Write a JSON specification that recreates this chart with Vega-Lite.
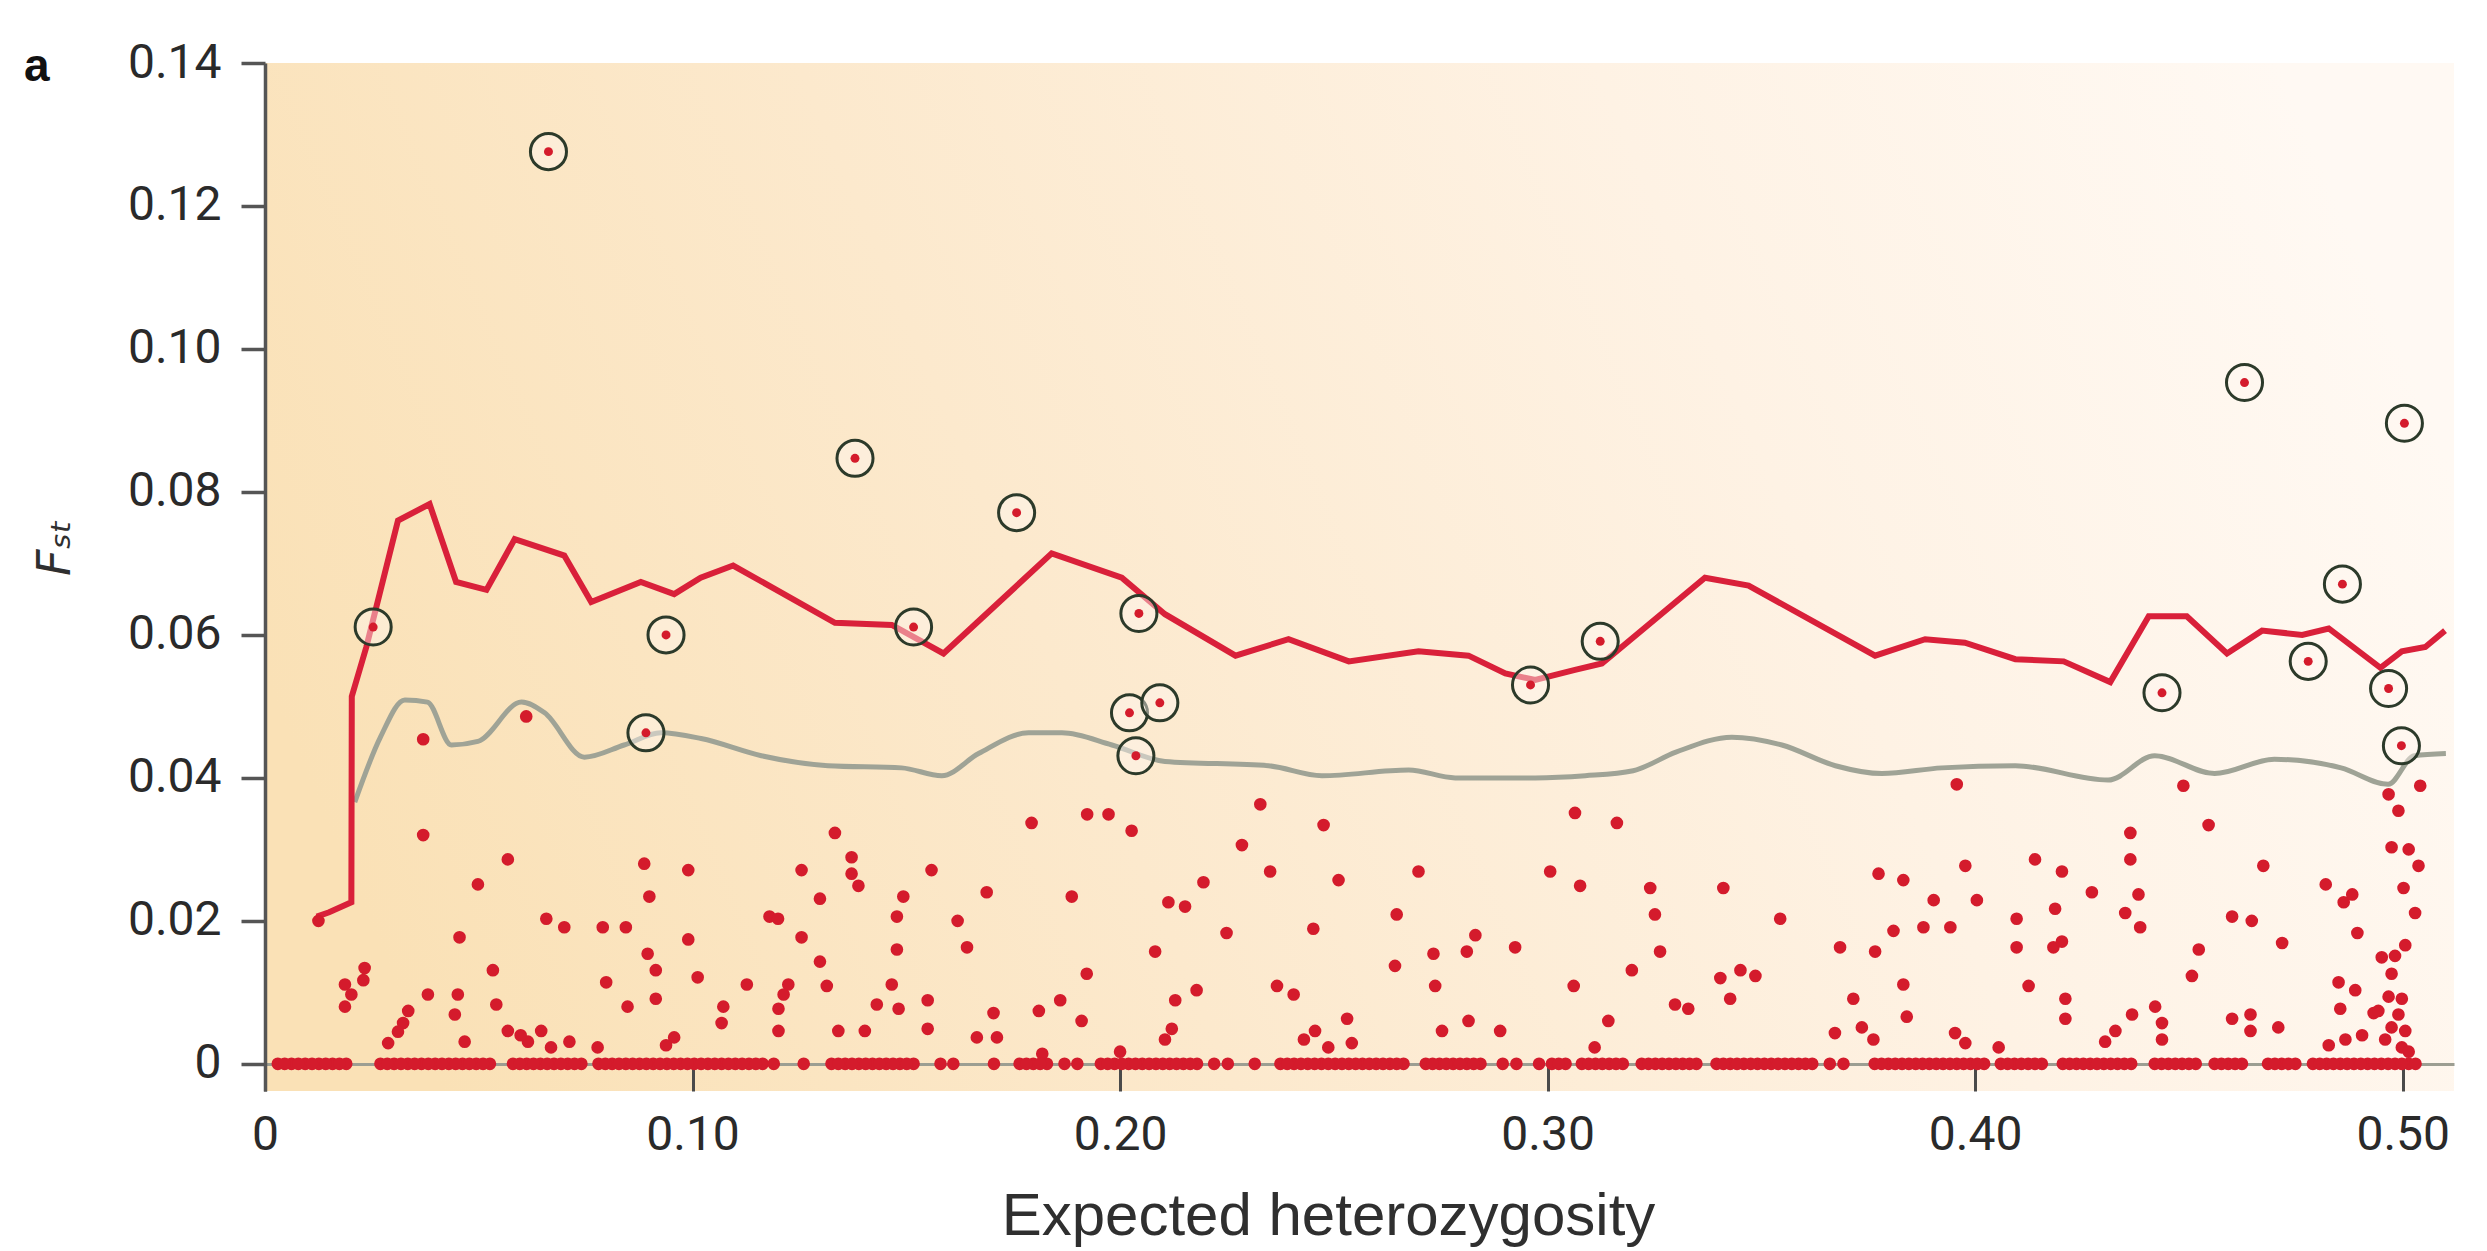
{
  "$schema": "https://vega.github.io/schema/vega-lite/v6.json",
  "width": 2189,
  "height": 1028,
  "autosize": {"type": "none"},
  "padding": {"left": 265, "top": 63, "right": 33, "bottom": 160},
  "background": "white",
  "title": {"text": "a", "anchor": "start", "frame": "group", "orient": "top", "offset": 0, "baseline": "alphabetic", "dx": -241, "dy": 88, "font": "Liberation Sans", "fontSize": 46, "fontWeight": "bold", "color": "#111111"},
  "config": {
    "view": {"stroke": null, "fill": {"gradient": "linear", "x1": 0, "y1": 0.6, "x2": 1, "y2": 0.4, "stops": [{"offset": 0, "color": "#FAE1B6"}, {"offset": 0.35, "color": "#FCE9CD"}, {"offset": 0.7, "color": "#FEF2E4"}, {"offset": 1, "color": "#FFF9F3"}]}},
    "axis": {"grid": false}
  },
  "datasets": {
    "upper": [
      {"h":0.0121,"fst":0.0206},{"h":0.0150,"fst":0.0212},{"h":0.0202,"fst":0.0226},{"h":0.0203,"fst":0.0514},{"h":0.0237,"fst":0.0583},{"h":0.0311,"fst":0.0760},{"h":0.0385,"fst":0.0783},{"h":0.0447,"fst":0.0674},{"h":0.0518,"fst":0.0663},{"h":0.0584,"fst":0.0734},{"h":0.0700,"fst":0.0711},{"h":0.0763,"fst":0.0646},{"h":0.0879,"fst":0.0674},{"h":0.0957,"fst":0.0657},{"h":0.1019,"fst":0.0680},{"h":0.1095,"fst":0.0697},{"h":0.1333,"fst":0.0617},{"h":0.1466,"fst":0.0614},{"h":0.1587,"fst":0.0574},{"h":0.1840,"fst":0.0714},{"h":0.2004,"fst":0.0680},{"h":0.2105,"fst":0.0629},{"h":0.2270,"fst":0.0571},{"h":0.2394,"fst":0.0594},{"h":0.2535,"fst":0.0563},{"h":0.2698,"fst":0.0577},{"h":0.2815,"fst":0.0571},{"h":0.2901,"fst":0.0546},{"h":0.2971,"fst":0.0537},{"h":0.3064,"fst":0.0551},{"h":0.3127,"fst":0.0560},{"h":0.3368,"fst":0.0680},{"h":0.3470,"fst":0.0669},{"h":0.3766,"fst":0.0571},{"h":0.3883,"fst":0.0594},{"h":0.3976,"fst":0.0589},{"h":0.4094,"fst":0.0566},{"h":0.4207,"fst":0.0563},{"h":0.4316,"fst":0.0534},{"h":0.4406,"fst":0.0626},{"h":0.4495,"fst":0.0626},{"h":0.4589,"fst":0.0574},{"h":0.4671,"fst":0.0606},{"h":0.4765,"fst":0.0600},{"h":0.4827,"fst":0.0609},{"h":0.4948,"fst":0.0554},{"h":0.4998,"fst":0.0577},{"h":0.5053,"fst":0.0583},{"h":0.5099,"fst":0.0606}
    ],
    "mean": [
      {"h":0.0210,"fst":0.0366},{"h":0.0270,"fst":0.0457},{"h":0.0327,"fst":0.0509},{"h":0.0380,"fst":0.0506},{"h":0.0436,"fst":0.0446},{"h":0.0498,"fst":0.0451},{"h":0.0600,"fst":0.0506},{"h":0.0654,"fst":0.0491},{"h":0.0747,"fst":0.0429},{"h":0.0840,"fst":0.0446},{"h":0.0926,"fst":0.0463},{"h":0.1020,"fst":0.0455},{"h":0.1161,"fst":0.0431},{"h":0.1317,"fst":0.0417},{"h":0.1489,"fst":0.0414},{"h":0.1583,"fst":0.0403},{"h":0.1669,"fst":0.0434},{"h":0.1786,"fst":0.0463},{"h":0.1864,"fst":0.0463},{"h":0.1981,"fst":0.0446},{"h":0.2105,"fst":0.0423},{"h":0.2347,"fst":0.0417},{"h":0.2472,"fst":0.0403},{"h":0.2675,"fst":0.0411},{"h":0.2784,"fst":0.0400},{"h":0.2971,"fst":0.0400},{"h":0.3088,"fst":0.0403},{"h":0.3200,"fst":0.0410},{"h":0.3300,"fst":0.0436},{"h":0.3431,"fst":0.0457},{"h":0.3548,"fst":0.0446},{"h":0.3673,"fst":0.0417},{"h":0.3782,"fst":0.0406},{"h":0.3922,"fst":0.0414},{"h":0.4094,"fst":0.0417},{"h":0.4311,"fst":0.0397},{"h":0.4420,"fst":0.0431},{"h":0.4560,"fst":0.0406},{"h":0.4700,"fst":0.0426},{"h":0.4856,"fst":0.0414},{"h":0.4966,"fst":0.0391},{"h":0.5027,"fst":0.0431},{"h":0.5101,"fst":0.0434}
    ],
    "outliers": [
      {"h":0.0253,"fst":0.0611},{"h":0.0663,"fst":0.1276},{"h":0.0938,"fst":0.0600},{"h":0.0891,"fst":0.0463},{"h":0.1380,"fst":0.0847},{"h":0.1517,"fst":0.0611},{"h":0.1758,"fst":0.0771},{"h":0.2044,"fst":0.0630},{"h":0.2022,"fst":0.0491},{"h":0.2093,"fst":0.0505},{"h":0.2037,"fst":0.0431},{"h":0.2960,"fst":0.0530},{"h":0.3123,"fst":0.0591},{"h":0.4437,"fst":0.0519},{"h":0.4630,"fst":0.0953},{"h":0.4779,"fst":0.0563},{"h":0.4859,"fst":0.0671},{"h":0.4967,"fst":0.0525},{"h":0.4997,"fst":0.0445},{"h":0.5004,"fst":0.0896}
    ],
    "dots": [
      {"h":0.0370,"fst":0.0454},{"h":0.0611,"fst":0.0486},{"h":0.0370,"fst":0.0320},{"h":0.0568,"fst":0.0286},{"h":0.0498,"fst":0.0251},{"h":0.0887,"fst":0.0280},{"h":0.0990,"fst":0.0271},{"h":0.0899,"fst":0.0234},{"h":0.0658,"fst":0.0203},{"h":0.0700,"fst":0.0191},{"h":0.0790,"fst":0.0191},{"h":0.0844,"fst":0.0191},{"h":0.0455,"fst":0.0177},{"h":0.0990,"fst":0.0174},{"h":0.0533,"fst":0.0131},{"h":0.0233,"fst":0.0134},{"h":0.0895,"fst":0.0154},{"h":0.0914,"fst":0.0131},{"h":0.1012,"fst":0.0121},{"h":0.0187,"fst":0.0111},{"h":0.0202,"fst":0.0097},{"h":0.0230,"fst":0.0117},{"h":0.0187,"fst":0.0080},{"h":0.0798,"fst":0.0114},{"h":0.0381,"fst":0.0097},{"h":0.0451,"fst":0.0097},{"h":0.0444,"fst":0.0069},{"h":0.0541,"fst":0.0083},{"h":0.0848,"fst":0.0080},{"h":0.0914,"fst":0.0091},{"h":0.0335,"fst":0.0074},{"h":0.0323,"fst":0.0057},{"h":0.0311,"fst":0.0045},{"h":0.0568,"fst":0.0046},{"h":0.0467,"fst":0.0031},{"h":0.0646,"fst":0.0046},{"h":0.0615,"fst":0.0031},{"h":0.0669,"fst":0.0023},{"h":0.0712,"fst":0.0031},{"h":0.0778,"fst":0.0023},{"h":0.0957,"fst":0.0037},{"h":0.0288,"fst":0.0029},{"h":0.0938,"fst":0.0026},{"h":0.0598,"fst":0.0040},{"h":0.0125,"fst":0.0200},
      {"h":0.1333,"fst":0.0323},{"h":0.1372,"fst":0.0289},{"h":0.1372,"fst":0.0266},{"h":0.1388,"fst":0.0249},{"h":0.1255,"fst":0.0271},{"h":0.1298,"fst":0.0231},{"h":0.1180,"fst":0.0206},{"h":0.1200,"fst":0.0203},{"h":0.1255,"fst":0.0177},{"h":0.1298,"fst":0.0143},{"h":0.1314,"fst":0.0109},{"h":0.1224,"fst":0.0111},{"h":0.1213,"fst":0.0097},{"h":0.1201,"fst":0.0077},{"h":0.1201,"fst":0.0046},{"h":0.1127,"fst":0.0111},{"h":0.1072,"fst":0.0080},{"h":0.1068,"fst":0.0057},{"h":0.1493,"fst":0.0234},{"h":0.1478,"fst":0.0206},{"h":0.1478,"fst":0.0160},{"h":0.1466,"fst":0.0111},{"h":0.1431,"fst":0.0083},{"h":0.1482,"fst":0.0077},{"h":0.1341,"fst":0.0046},{"h":0.1403,"fst":0.0046},{"h":0.1559,"fst":0.0271},{"h":0.1620,"fst":0.0200},{"h":0.1642,"fst":0.0163},{"h":0.1550,"fst":0.0089},{"h":0.1550,"fst":0.0049},{"h":0.1688,"fst":0.0240},{"h":0.1704,"fst":0.0071},{"h":0.1665,"fst":0.0037},{"h":0.1712,"fst":0.0037},{"h":0.1793,"fst":0.0337},{"h":0.1923,"fst":0.0349},{"h":0.1973,"fst":0.0349},{"h":0.2027,"fst":0.0326},{"h":0.1887,"fst":0.0234},{"h":0.1922,"fst":0.0126},{"h":0.1860,"fst":0.0089},{"h":0.1810,"fst":0.0074},{"h":0.1910,"fst":0.0060},{"h":0.1818,"fst":0.0014},{"h":0.2000,"fst":0.0017},
      {"h":0.2328,"fst":0.0363},{"h":0.2476,"fst":0.0334},{"h":0.2285,"fst":0.0306},{"h":0.2351,"fst":0.0269},{"h":0.2195,"fst":0.0254},{"h":0.2511,"fst":0.0257},{"h":0.2698,"fst":0.0269},{"h":0.2113,"fst":0.0226},{"h":0.2152,"fst":0.0220},{"h":0.2249,"fst":0.0183},{"h":0.2452,"fst":0.0189},{"h":0.2647,"fst":0.0209},{"h":0.2082,"fst":0.0157},{"h":0.2831,"fst":0.0180},{"h":0.2811,"fst":0.0157},{"h":0.2924,"fst":0.0163},{"h":0.2733,"fst":0.0154},{"h":0.2643,"fst":0.0137},{"h":0.2179,"fst":0.0103},{"h":0.2129,"fst":0.0089},{"h":0.2367,"fst":0.0109},{"h":0.2406,"fst":0.0097},{"h":0.2737,"fst":0.0109},{"h":0.3061,"fst":0.0109},{"h":0.3006,"fst":0.0269},{"h":0.3064,"fst":0.0351},{"h":0.3076,"fst":0.0249},{"h":0.2121,"fst":0.0049},{"h":0.2105,"fst":0.0034},{"h":0.2531,"fst":0.0063},{"h":0.2456,"fst":0.0046},{"h":0.2430,"fst":0.0034},{"h":0.2487,"fst":0.0023},{"h":0.2542,"fst":0.0029},{"h":0.2753,"fst":0.0046},{"h":0.2815,"fst":0.0060},{"h":0.2889,"fst":0.0046},
      {"h":0.3957,"fst":0.0391},{"h":0.3162,"fst":0.0337},{"h":0.3240,"fst":0.0246},{"h":0.3411,"fst":0.0246},{"h":0.3251,"fst":0.0209},{"h":0.3544,"fst":0.0203},{"h":0.3263,"fst":0.0157},{"h":0.3197,"fst":0.0131},{"h":0.3404,"fst":0.0120},{"h":0.3451,"fst":0.0131},{"h":0.3486,"fst":0.0123},{"h":0.3427,"fst":0.0091},{"h":0.3298,"fst":0.0083},{"h":0.3329,"fst":0.0077},{"h":0.3142,"fst":0.0060},{"h":0.3110,"fst":0.0023},{"h":0.3684,"fst":0.0163},{"h":0.3766,"fst":0.0157},{"h":0.3774,"fst":0.0266},{"h":0.3832,"fst":0.0257},{"h":0.3809,"fst":0.0186},{"h":0.3903,"fst":0.0229},{"h":0.3879,"fst":0.0191},{"h":0.3942,"fst":0.0191},{"h":0.3977,"fst":0.0277},{"h":0.4004,"fst":0.0229},{"h":0.4097,"fst":0.0203},{"h":0.4097,"fst":0.0163},{"h":0.3832,"fst":0.0111},{"h":0.3715,"fst":0.0091},{"h":0.3840,"fst":0.0066},{"h":0.3672,"fst":0.0043},{"h":0.3735,"fst":0.0051},{"h":0.3762,"fst":0.0034},{"h":0.3953,"fst":0.0043},{"h":0.3977,"fst":0.0029},{"h":0.4055,"fst":0.0023},
      {"h":0.4487,"fst":0.0389},{"h":0.4546,"fst":0.0334},{"h":0.4363,"fst":0.0323},{"h":0.4363,"fst":0.0286},{"h":0.4140,"fst":0.0286},{"h":0.4203,"fst":0.0269},{"h":0.4273,"fst":0.0240},{"h":0.4382,"fst":0.0237},{"h":0.4187,"fst":0.0217},{"h":0.4351,"fst":0.0211},{"h":0.4386,"fst":0.0191},{"h":0.4183,"fst":0.0163},{"h":0.4203,"fst":0.0171},{"h":0.4125,"fst":0.0109},{"h":0.4211,"fst":0.0091},{"h":0.4211,"fst":0.0063},{"h":0.4674,"fst":0.0277},{"h":0.4601,"fst":0.0206},{"h":0.4647,"fst":0.0200},{"h":0.4820,"fst":0.0251},{"h":0.4862,"fst":0.0226},{"h":0.4882,"fst":0.0237},{"h":0.4894,"fst":0.0183},{"h":0.4718,"fst":0.0169},{"h":0.4523,"fst":0.0160},{"h":0.4507,"fst":0.0123},{"h":0.4367,"fst":0.0069},{"h":0.4421,"fst":0.0080},{"h":0.4437,"fst":0.0057},{"h":0.4437,"fst":0.0034},{"h":0.4328,"fst":0.0046},{"h":0.4304,"fst":0.0031},{"h":0.4601,"fst":0.0063},{"h":0.4644,"fst":0.0069},{"h":0.4644,"fst":0.0046},{"h":0.4709,"fst":0.0051},{"h":0.4850,"fst":0.0114},{"h":0.4889,"fst":0.0103},{"h":0.4854,"fst":0.0077},{"h":0.4827,"fst":0.0026},{"h":0.4866,"fst":0.0034},{"h":0.4905,"fst":0.0040},{"h":0.4932,"fst":0.0071},{"h":0.4967,"fst":0.0377},{"h":0.4990,"fst":0.0354},{"h":0.5041,"fst":0.0389},{"h":0.4974,"fst":0.0303},{"h":0.5014,"fst":0.0300},{"h":0.5037,"fst":0.0277},{"h":0.5002,"fst":0.0246},{"h":0.5029,"fst":0.0211},{"h":0.5006,"fst":0.0166},{"h":0.4951,"fst":0.0149},{"h":0.4982,"fst":0.0151},{"h":0.4974,"fst":0.0126},{"h":0.4967,"fst":0.0094},{"h":0.4998,"fst":0.0091},{"h":0.4943,"fst":0.0074},{"h":0.4990,"fst":0.0069},{"h":0.4974,"fst":0.0051},{"h":0.5006,"fst":0.0046},{"h":0.4959,"fst":0.0034},{"h":0.4998,"fst":0.0023},{"h":0.5014,"fst":0.0017},
      {"h":0.0030,"fst":0},{"h":0.0062,"fst":0},{"h":0.0094,"fst":0},{"h":0.0126,"fst":0},{"h":0.0158,"fst":0},{"h":0.0190,"fst":0},{"h":0.0270,"fst":0},{"h":0.0302,"fst":0},{"h":0.0334,"fst":0},{"h":0.0366,"fst":0},{"h":0.0398,"fst":0},{"h":0.0430,"fst":0},{"h":0.0462,"fst":0},{"h":0.0494,"fst":0},{"h":0.0526,"fst":0},{"h":0.0580,"fst":0},{"h":0.0612,"fst":0},{"h":0.0644,"fst":0},{"h":0.0676,"fst":0},{"h":0.0708,"fst":0},{"h":0.0740,"fst":0},{"h":0.0780,"fst":0},{"h":0.0812,"fst":0},{"h":0.0844,"fst":0},{"h":0.0876,"fst":0},{"h":0.0908,"fst":0},{"h":0.0940,"fst":0},{"h":0.0972,"fst":0},{"h":0.1004,"fst":0},{"h":0.1036,"fst":0},{"h":0.1068,"fst":0},{"h":0.1100,"fst":0},{"h":0.1132,"fst":0},{"h":0.1164,"fst":0},{"h":0.1190,"fst":0},{"h":0.1260,"fst":0},{"h":0.1325,"fst":0},{"h":0.1357,"fst":0},{"h":0.1389,"fst":0},{"h":0.1421,"fst":0},{"h":0.1453,"fst":0},{"h":0.1485,"fst":0},{"h":0.1517,"fst":0},{"h":0.1580,"fst":0},{"h":0.1610,"fst":0},{"h":0.1705,"fst":0},{"h":0.1765,"fst":0},{"h":0.1797,"fst":0},{"h":0.1829,"fst":0},{"h":0.1870,"fst":0},{"h":0.1900,"fst":0},{"h":0.1955,"fst":0},{"h":0.1987,"fst":0},{"h":0.2020,"fst":0},{"h":0.2052,"fst":0},{"h":0.2084,"fst":0},{"h":0.2116,"fst":0},{"h":0.2148,"fst":0},{"h":0.2180,"fst":0},{"h":0.2220,"fst":0},{"h":0.2252,"fst":0},{"h":0.2315,"fst":0},{"h":0.2375,"fst":0},{"h":0.2407,"fst":0},{"h":0.2439,"fst":0},{"h":0.2471,"fst":0},{"h":0.2503,"fst":0},{"h":0.2535,"fst":0},{"h":0.2567,"fst":0},{"h":0.2599,"fst":0},{"h":0.2631,"fst":0},{"h":0.2663,"fst":0},{"h":0.2715,"fst":0},{"h":0.2747,"fst":0},{"h":0.2779,"fst":0},{"h":0.2811,"fst":0},{"h":0.2843,"fst":0},{"h":0.2895,"fst":0},{"h":0.2927,"fst":0},{"h":0.2980,"fst":0},{"h":0.3010,"fst":0},{"h":0.3042,"fst":0},{"h":0.3080,"fst":0},{"h":0.3112,"fst":0},{"h":0.3144,"fst":0},{"h":0.3176,"fst":0},{"h":0.3220,"fst":0},{"h":0.3252,"fst":0},{"h":0.3284,"fst":0},{"h":0.3316,"fst":0},{"h":0.3348,"fst":0},{"h":0.3395,"fst":0},{"h":0.3427,"fst":0},{"h":0.3459,"fst":0},{"h":0.3491,"fst":0},{"h":0.3523,"fst":0},{"h":0.3555,"fst":0},{"h":0.3587,"fst":0},{"h":0.3619,"fst":0},{"h":0.3660,"fst":0},{"h":0.3692,"fst":0},{"h":0.3765,"fst":0},{"h":0.3797,"fst":0},{"h":0.3829,"fst":0},{"h":0.3861,"fst":0},{"h":0.3893,"fst":0},{"h":0.3925,"fst":0},{"h":0.3957,"fst":0},{"h":0.3989,"fst":0},{"h":0.4021,"fst":0},{"h":0.4060,"fst":0},{"h":0.4092,"fst":0},{"h":0.4124,"fst":0},{"h":0.4156,"fst":0},{"h":0.4205,"fst":0},{"h":0.4237,"fst":0},{"h":0.4269,"fst":0},{"h":0.4301,"fst":0},{"h":0.4333,"fst":0},{"h":0.4365,"fst":0},{"h":0.4420,"fst":0},{"h":0.4452,"fst":0},{"h":0.4484,"fst":0},{"h":0.4516,"fst":0},{"h":0.4560,"fst":0},{"h":0.4592,"fst":0},{"h":0.4624,"fst":0},{"h":0.4685,"fst":0},{"h":0.4717,"fst":0},{"h":0.4749,"fst":0},{"h":0.4790,"fst":0},{"h":0.4822,"fst":0},{"h":0.4854,"fst":0},{"h":0.4886,"fst":0},{"h":0.4918,"fst":0},{"h":0.4950,"fst":0},{"h":0.4982,"fst":0},{"h":0.5014,"fst":0},{"h":0.5030,"fst":0},
      {"h":0.0046,"fst":0},{"h":0.0078,"fst":0},{"h":0.0110,"fst":0},{"h":0.0142,"fst":0},{"h":0.0174,"fst":0},{"h":0.0286,"fst":0},{"h":0.0318,"fst":0},{"h":0.0350,"fst":0},{"h":0.0382,"fst":0},{"h":0.0414,"fst":0},{"h":0.0446,"fst":0},{"h":0.0478,"fst":0},{"h":0.0510,"fst":0},{"h":0.0596,"fst":0},{"h":0.0628,"fst":0},{"h":0.0660,"fst":0},{"h":0.0692,"fst":0},{"h":0.0724,"fst":0},{"h":0.0796,"fst":0},{"h":0.0828,"fst":0},{"h":0.0860,"fst":0},{"h":0.0892,"fst":0},{"h":0.0924,"fst":0},{"h":0.0956,"fst":0},{"h":0.0988,"fst":0},{"h":0.1020,"fst":0},{"h":0.1052,"fst":0},{"h":0.1084,"fst":0},{"h":0.1116,"fst":0},{"h":0.1148,"fst":0},{"h":0.1341,"fst":0},{"h":0.1373,"fst":0},{"h":0.1405,"fst":0},{"h":0.1437,"fst":0},{"h":0.1469,"fst":0},{"h":0.1501,"fst":0},{"h":0.1781,"fst":0},{"h":0.1813,"fst":0},{"h":0.1971,"fst":0},{"h":0.2004,"fst":0},{"h":0.2036,"fst":0},{"h":0.2068,"fst":0},{"h":0.2100,"fst":0},{"h":0.2132,"fst":0},{"h":0.2164,"fst":0},{"h":0.2391,"fst":0},{"h":0.2423,"fst":0},{"h":0.2455,"fst":0},{"h":0.2487,"fst":0},{"h":0.2519,"fst":0},{"h":0.2551,"fst":0},{"h":0.2583,"fst":0},{"h":0.2615,"fst":0},{"h":0.2647,"fst":0},{"h":0.2731,"fst":0},{"h":0.2763,"fst":0},{"h":0.2795,"fst":0},{"h":0.2827,"fst":0},{"h":0.3026,"fst":0},{"h":0.3096,"fst":0},{"h":0.3128,"fst":0},{"h":0.3160,"fst":0},{"h":0.3236,"fst":0},{"h":0.3268,"fst":0},{"h":0.3300,"fst":0},{"h":0.3332,"fst":0},{"h":0.3411,"fst":0},{"h":0.3443,"fst":0},{"h":0.3475,"fst":0},{"h":0.3507,"fst":0},{"h":0.3539,"fst":0},{"h":0.3571,"fst":0},{"h":0.3603,"fst":0},{"h":0.3781,"fst":0},{"h":0.3813,"fst":0},{"h":0.3845,"fst":0},{"h":0.3877,"fst":0},{"h":0.3909,"fst":0},{"h":0.3941,"fst":0},{"h":0.3973,"fst":0},{"h":0.4005,"fst":0},{"h":0.4076,"fst":0},{"h":0.4108,"fst":0},{"h":0.4140,"fst":0},{"h":0.4221,"fst":0},{"h":0.4253,"fst":0},{"h":0.4285,"fst":0},{"h":0.4317,"fst":0},{"h":0.4349,"fst":0},{"h":0.4436,"fst":0},{"h":0.4468,"fst":0},{"h":0.4500,"fst":0},{"h":0.4576,"fst":0},{"h":0.4608,"fst":0},{"h":0.4701,"fst":0},{"h":0.4733,"fst":0},{"h":0.4806,"fst":0},{"h":0.4838,"fst":0},{"h":0.4870,"fst":0},{"h":0.4902,"fst":0},{"h":0.4934,"fst":0},{"h":0.4966,"fst":0},{"h":0.4998,"fst":0}
    ]
  },
  "encoding": {
    "x": {"field": "h", "type": "quantitative", "scale": {"domain": [0, 0.512], "nice": false, "zero": false},
      "axis": {"values": [0, 0.1, 0.2, 0.3, 0.4, 0.5], "labelExpr": "datum.value == 0 ? '0' : format(datum.value, '.2f')", "offset": -27, "domainColor": "#9C9E92", "domainWidth": 3, "tickColor": "#4A4A4A", "tickWidth": 3, "tickSize": 27, "labelFont": "Roboto", "labelFontSize": 48, "labelColor": "#2A2A2A", "labelPadding": 20, "labelFlush": false, "title": "Expected heterozygosity", "titleFont": "Liberation Sans", "titleFontSize": 60, "titleFontWeight": "normal", "titleColor": "#2F2F2F", "titleBaseline": "alphabetic", "titleAlign": "center", "titleX": 1063, "titleY": 170}},
    "y": {"field": "fst", "type": "quantitative", "scale": {"domain": [-0.0038, 0.14], "nice": false, "zero": false},
      "axis": {"values": [0, 0.02, 0.04, 0.06, 0.08, 0.1, 0.12, 0.14], "labelExpr": "datum.value == 0 ? '0' : format(datum.value, '.2f')", "domainColor": "#555555", "domainWidth": 3.5, "tickColor": "#555555", "tickWidth": 3.5, "tickSize": 24, "labelFont": "Roboto", "labelFontSize": 48, "labelColor": "#2A2A2A", "labelPadding": 20, "labelFlush": false, "title": "Fₛₜ", "titleFont": "DejaVu Sans", "titleFontStyle": "italic", "titleFontSize": 46, "titleFontWeight": "normal", "titleColor": "#2F2F2F", "titleAngle": 270, "titleAlign": "center", "titleBaseline": "middle", "titleX": -210, "titleY": 484}}
  },
  "layer": [
    {"data": {"name": "mean"}, "mark": {"type": "line", "interpolate": "monotone", "color": "#9FA396", "strokeWidth": 5}},
    {"data": {"name": "upper"}, "mark": {"type": "line", "color": "#D9203A", "strokeWidth": 6, "strokeJoin": "miter"}},
    {"data": {"name": "dots"}, "mark": {"type": "point", "shape": "circle", "filled": true, "color": "#D41B2C", "size": 160, "opacity": 1}},
    {"data": {"name": "outliers"}, "mark": {"type": "point", "shape": "circle", "filled": true, "fill": "#FFF7F0", "fillOpacity": 0.45, "stroke": "#2C3A2A", "strokeWidth": 3, "size": 1300, "opacity": 1}},
    {"data": {"name": "outliers"}, "mark": {"type": "point", "shape": "circle", "filled": true, "color": "#D41B2C", "size": 80, "opacity": 1}}
  ]
}
